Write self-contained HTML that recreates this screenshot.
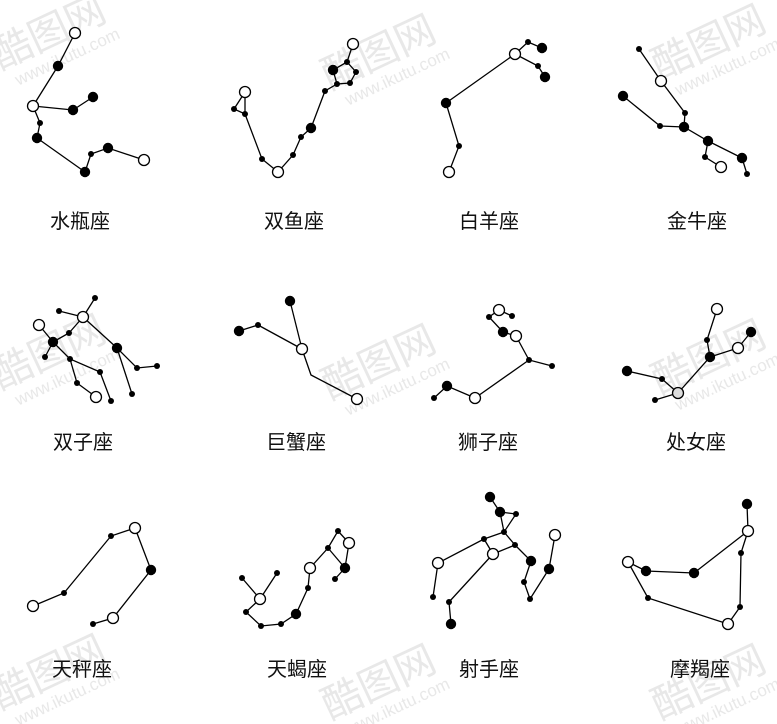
<!DOCTYPE html>
<html><head><meta charset="utf-8"><style>
html,body{margin:0;padding:0;background:#fff;}
svg{display:block}
.l{font-family:"Liberation Sans","Noto Sans CJK SC",sans-serif;font-size:20px;fill:#111;text-anchor:middle}
.w{font-family:"Liberation Sans","Noto Sans CJK SC",sans-serif;fill:#e8e8e8}
</style></head><body>
<svg id="s" width="777" height="724" viewBox="0 0 777 724" xmlns="http://www.w3.org/2000/svg">
<g id="wm">
<g transform="translate(0,70) rotate(-25)"><text class="w" x="0" y="0" font-size="40">酷图网</text><text class="w" x="10" y="22" font-size="17">www.ikutu.com</text></g>
<g transform="translate(330,90) rotate(-25)"><text class="w" x="0" y="0" font-size="40">酷图网</text><text class="w" x="10" y="22" font-size="17">www.ikutu.com</text></g>
<g transform="translate(660,80) rotate(-25)"><text class="w" x="0" y="0" font-size="40">酷图网</text><text class="w" x="10" y="22" font-size="17">www.ikutu.com</text></g>
<g transform="translate(0,390) rotate(-25)"><text class="w" x="0" y="0" font-size="40">酷图网</text><text class="w" x="10" y="22" font-size="17">www.ikutu.com</text></g>
<g transform="translate(330,400) rotate(-25)"><text class="w" x="0" y="0" font-size="40">酷图网</text><text class="w" x="10" y="22" font-size="17">www.ikutu.com</text></g>
<g transform="translate(660,395) rotate(-25)"><text class="w" x="0" y="0" font-size="40">酷图网</text><text class="w" x="10" y="22" font-size="17">www.ikutu.com</text></g>
<g transform="translate(0,710) rotate(-25)"><text class="w" x="0" y="0" font-size="40">酷图网</text><text class="w" x="10" y="22" font-size="17">www.ikutu.com</text></g>
<g transform="translate(330,720) rotate(-25)"><text class="w" x="0" y="0" font-size="40">酷图网</text><text class="w" x="10" y="22" font-size="17">www.ikutu.com</text></g>
<g transform="translate(660,720) rotate(-25)"><text class="w" x="0" y="0" font-size="40">酷图网</text><text class="w" x="10" y="22" font-size="17">www.ikutu.com</text></g>
</g>
<g id="lines" stroke="#000" stroke-width="1.3" fill="none">
<!-- Aquarius -->
<polyline points="75,33 58,66 33,106"/><polyline points="33,106 73,110 93,97"/><polyline points="33,106 40,123 37,138 85,172 91,154 108,148 144,160"/>
<!-- Pisces -->
<polyline points="245,92 234,109 245,114 245,92"/><polyline points="245,114 262,159 278,172 293,155 301,137 311,128 325,91 337,84"/><polyline points="337,84 333,70 347,62 356,72 350,83 337,84"/><polyline points="347,62 353,44"/>
<!-- Aries -->
<polyline points="449,172 459,146 446,103 515,54 528,42 542,48"/><polyline points="515,54 538,66 545,77"/>
<!-- Taurus -->
<polyline points="639,49 661,81 685,113 684,127"/><polyline points="623,96 660,126 684,127 708,141 742,158 747,174"/><polyline points="708,141 705,157 721,167"/>
<!-- Gemini -->
<polyline points="95,298 83,317"/><polyline points="59,311 83,317"/><polyline points="83,317 69,333 53,342"/><polyline points="39,325 53,342 45,357"/><polyline points="53,342 70,359 100,372 111,401"/><polyline points="70,359 77,383 96,397"/><polyline points="83,317 117,348 137,368 157,366"/><polyline points="117,348 132,394"/>
<!-- Cancer -->
<polyline points="290,301 302,349"/><polyline points="239,331 258,325 302,349 311,375 357,399"/>
<!-- Leo -->
<polyline points="512,316 499,310 489,317 503,332 516,336 529,360 552,366"/><polyline points="529,360 475,398 447,386 434,398"/>
<!-- Virgo -->
<polyline points="717,309 707,340 710,357 678,393"/><polyline points="710,357 738,348 751,332"/><polyline points="627,371 662,379 678,393 655,400"/>
<!-- Libra -->
<polyline points="33,606 64,593 111,536 135,528 151,570 113,618 93,624"/>
<!-- Scorpio -->
<polyline points="242,578 260,599 277,573"/><polyline points="260,599 246,612 261,626 281,624 296,614 308,588 310,568 328,548 338,531 349,543 345,568 335,579"/><polyline points="328,548 345,568"/>
<!-- Sagittarius -->
<polyline points="490,497 500,512 516,514 504,532 500,512"/><polyline points="504,532 484,539 438,563 433,597"/><polyline points="504,532 515,545 493,554 484,539"/><polyline points="493,554 449,602 451,624"/><polyline points="515,545 531,561 524,582 530,599 549,569 555,535"/>
<!-- Capricorn -->
<polyline points="747,504 748,531 741,553 740,607 728,624 648,598 628,562 646,571 694,573 748,531"/>
</g>
<g id="dots"></g>
<text class="l" x="80" y="228">水瓶座</text>
<text class="l" x="294" y="228">双鱼座</text>
<text class="l" x="489" y="228">白羊座</text>
<text class="l" x="697" y="228">金牛座</text>
<text class="l" x="83" y="449">双子座</text>
<text class="l" x="296" y="449">巨蟹座</text>
<text class="l" x="488" y="449">狮子座</text>
<text class="l" x="696" y="449">处女座</text>
<text class="l" x="82" y="676">天秤座</text>
<text class="l" x="297" y="676">天蝎座</text>
<text class="l" x="489" y="676">射手座</text>
<text class="l" x="700" y="676">摩羯座</text>
</svg>
<script>
var O=[[75,33],[33,106],[144,160],[245,92],[278,172],[353,44],[515,54],[449,172],[661,81],[721,167],[83,317],[39,325],[96,397],[302,349],[357,399],[499,310],[516,336],[475,398],[717,309],[738,348],[33,606],[135,528],[113,618],[260,599],[310,568],[349,543],[438,563],[493,554],[555,535],[748,531],[728,624],[628,562]];
var B=[[58,66],[73,110],[93,97],[37,138],[85,172],[108,148],[311,128],[542,48],[545,77],[446,103],[623,96],[684,127],[708,141],[742,158],[53,342],[117,348],[290,301],[239,331],[503,332],[447,386],[710,357],[751,332],[627,371],[151,570],[296,614],[345,568],[490,497],[500,512],[531,561],[549,569],[451,624],[747,504],[646,571],[694,573],[333,70]];
var S=[[40,123],[91,154],[234,109],[245,114],[262,159],[293,155],[301,137],[325,91],[337,84],[347,62],[356,72],[350,83],[528,42],[538,66],[459,146],[639,49],[685,113],[660,126],[705,157],[747,174],[95,298],[59,311],[69,333],[45,357],[70,359],[137,368],[157,366],[100,372],[77,383],[111,401],[132,394],[258,325],[512,316],[489,317],[529,360],[552,366],[434,398],[707,340],[662,379],[655,400],[64,593],[111,536],[93,624],[242,578],[277,573],[246,612],[261,626],[281,624],[308,588],[328,548],[338,531],[335,579],[516,514],[504,532],[484,539],[433,597],[515,545],[524,582],[530,599],[449,602],[741,553],[740,607],[648,598]];
var g=document.getElementById('dots'),h='';
S.forEach(function(p){h+='<circle cx="'+p[0]+'" cy="'+p[1]+'" r="3" fill="#000"/>';});
B.forEach(function(p){h+='<circle cx="'+p[0]+'" cy="'+p[1]+'" r="5.2" fill="#000"/>';});
O.forEach(function(p){var f=(p[0]==678)?'#ddd':'#fff';h+='<circle cx="'+p[0]+'" cy="'+p[1]+'" r="5.5" fill="'+f+'" stroke="#000" stroke-width="1.3"/>';});
h+='<circle cx="678" cy="393" r="5.5" fill="#ddd" stroke="#000" stroke-width="1.3"/>';
g.innerHTML=h;
</script>
</body></html>
